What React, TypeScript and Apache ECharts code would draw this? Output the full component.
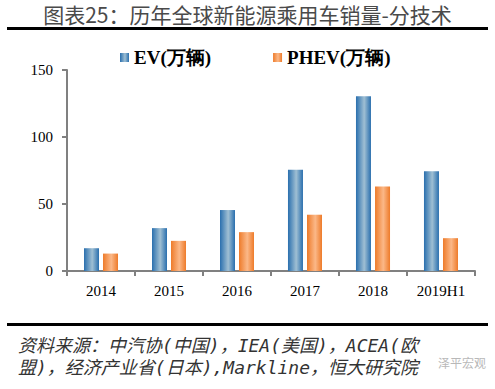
import React, { useEffect, useRef } from "react";
import * as echarts from "echarts";

const categories = ["2014", "2015", "2016", "2017", "2018", "2019H1"];
const evValues = [17, 32, 45.5, 75.5, 130.5, 74.5];
const phevValues = [13, 22.5, 29, 42, 63, 24.5];
const seriesNames = ["EV(万辆)", "PHEV(万辆)"];
const titleText = "图表25：历年全球新能源乘用车销量-分技术";
const sourceLine1 = "资料来源：中汽协(中国)，IEA(美国)，ACEA(欧";
const sourceLine2 = "盟)，经济产业省(日本),Markline，恒大研究院";
const watermark = "泽平宏观";

const grad = (edge: string, mid: string) =>
  new echarts.graphic.LinearGradient(0, 0, 1, 0, [
    { offset: 0, color: edge },
    { offset: 0.55, color: mid },
    { offset: 1, color: edge },
  ]);

export default function App() {
  const ref = useRef<HTMLDivElement>(null);
  useEffect(() => {
    document.body.style.margin = "0";
    const chart = echarts.init(ref.current!, undefined, { renderer: "svg" });
    const serif = "'Liberation Serif', 'Times New Roman', serif";
    const mono = "'DejaVu Sans Mono', 'Noto Sans CJK SC', monospace";
    chart.setOption({
      animation: false,
      backgroundColor: "#ffffff",
      grid: { left: 67, right: 20, top: 70, bottom: 118, containLabel: false },
      legend: {
        left: 115,
        top: 43,
        itemWidth: 9,
        itemHeight: 9,
        itemGap: 62,
        icon: "rect",
        textStyle: { fontFamily: serif, fontWeight: "bold", fontSize: 19, color: "#000" },
        data: seriesNames,
      },
      xAxis: {
        type: "category",
        data: categories,
        axisLine: { lineStyle: { color: "#808080", width: 2 } },
        axisTick: { show: true, length: 5, alignWithLabel: false, lineStyle: { color: "#808080", width: 2 } },
        axisLabel: { fontFamily: serif, fontSize: 15, color: "#000", margin: 12 },
      },
      yAxis: {
        type: "value",
        min: 0,
        max: 150,
        interval: 50,
        splitLine: { show: false },
        axisLine: { show: true, lineStyle: { color: "#808080", width: 2 } },
        axisTick: { show: true, length: 5, lineStyle: { color: "#808080", width: 2 } },
        axisLabel: { fontFamily: serif, fontSize: 15, color: "#000", margin: 14 },
      },
      series: [
        {
          name: seriesNames[0],
          type: "bar",
          data: evValues,
          barWidth: 15,
          barGap: "27%",
          itemStyle: { color: grad("#2a6fae", "#9fbfd3") },
        },
        {
          name: seriesNames[1],
          type: "bar",
          data: phevValues,
          barWidth: 15,
          itemStyle: { color: grad("#ee7b2a", "#fbb888") },
        },
      ],
      graphic: [
        {
          type: "text",
          left: "center",
          top: 3,
          style: {
            text: titleText,
            fontSize: 21,
            lineHeight: 21,
            fontFamily: "'Noto Sans CJK SC', sans-serif",
            fill: "#4a4a4a",
          },
        },
        { type: "rect", shape: { x: 7, y: 27, width: 481, height: 3 }, style: { fill: "#000" } },
        { type: "rect", shape: { x: 7, y: 323, width: 481, height: 3 }, style: { fill: "#000" } },
        {
          type: "text",
          left: 18,
          top: 335,
          style: {
            text: sourceLine1,
            fontSize: 18,
            lineHeight: 20,
            fontStyle: "italic",
            fontFamily: mono,
            fill: "#333",
          },
        },
        {
          type: "text",
          left: 18,
          top: 357,
          style: {
            text: sourceLine2,
            fontSize: 18,
            lineHeight: 20,
            fontStyle: "italic",
            fontFamily: mono,
            fill: "#333",
          },
        },
        {
          type: "text",
          left: 438,
          top: 356,
          style: {
            text: watermark,
            fontSize: 12,
            fontFamily: "'Noto Sans CJK SC', sans-serif",
            fill: "#b8b8b8",
          },
        },
      ],
    });
    return () => chart.dispose();
  }, []);
  return <div ref={ref} style={{ width: 495, height: 389 }} />;
}
